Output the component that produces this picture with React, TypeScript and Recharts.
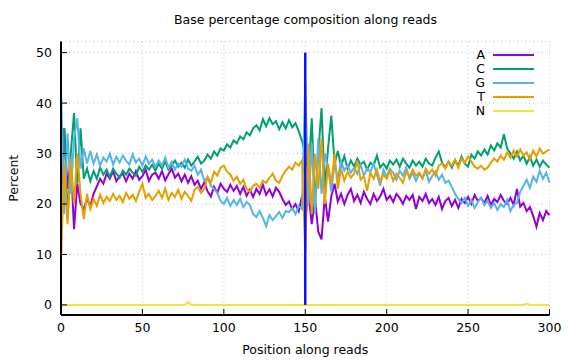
import { LineChart, Line, XAxis, YAxis, CartesianGrid, Legend, ReferenceLine } from 'recharts'

// read positions (every 2nd base along the read)
const positions = [
  0, 2, 4, 6, 8, 10, 12, 14, 16, 18,
  20, 22, 24, 26, 28, 30, 32, 34, 36, 38,
  40, 42, 44, 46, 48, 50, 52, 54, 56, 58,
  60, 62, 64, 66, 68, 70, 72, 74, 76, 78,
  80, 82, 84, 86, 88, 90, 92, 94, 96, 98,
  100, 102, 104, 106, 108, 110, 112, 114, 116, 118,
  120, 122, 124, 126, 128, 130, 132, 134, 136, 138,
  140, 142, 144, 146, 148, 150, 152, 154, 156, 158,
  160, 162, 164, 166, 168, 170, 172, 174, 176, 178,
  180, 182, 184, 186, 188, 190, 192, 194, 196, 198,
  200, 202, 204, 206, 208, 210, 212, 214, 216, 218,
  220, 222, 224, 226, 228, 230, 232, 234, 236, 238,
  240, 242, 244, 246, 248, 250, 252, 254, 256, 258,
  260, 262, 264, 266, 268, 270, 272, 274, 276, 278,
  280, 282, 284, 286, 288, 290, 292, 294, 296, 298,
  300,
]

const pctA = [
  21, 35, 23, 29, 15, 24, 20, 19, 21, 19.5,
  22, 23.5, 25, 24, 26, 25, 26.5, 24.5, 25.5, 26,
  24.5, 26, 25, 26.5, 24.8, 25.5, 26.8, 24.6, 25.8, 26.2,
  25, 26.5, 24.7, 25.9, 27, 25.2, 26, 24.5, 25.8, 24.2,
  25.5, 23.8, 24.6, 23, 24.3, 22.5, 21.5, 23.4, 22.2, 24,
  23, 22.4, 23.8, 22.6, 23.6, 22, 23.4, 21.6, 22.8, 21.4,
  23, 22, 23.8, 21.8, 22.9, 21.5, 23.2, 22.4, 21, 19.8,
  20.5, 19, 20, 18.6, 21.5, 17, 22, 16, 21, 14.5,
  13, 21.5, 16.5, 21.5, 24, 20.5, 22, 20, 21.8, 23,
  20.6, 21.8, 20.2, 22.4, 21, 20, 22, 20.6, 21.5, 23,
  20.8, 21.6, 20.4, 22, 21.2, 20, 21.6, 20.8, 21.8, 19,
  21.4, 20.6, 22, 20.2, 21, 19.8, 21.4, 19, 20.6, 21.2,
  19.6, 20.8, 19.2, 21, 20.2, 21.4, 20, 21.8, 20.6, 21.2,
  20.2, 21.6, 19.8, 21, 20.4, 21.8, 20.6, 20, 21.2, 19.8,
  23, 19.5, 20.2, 18.6, 19.4, 17.6, 15.5, 18.2, 16.8, 18.6,
  17.8,
]

const pctC = [
  28, 35, 17, 30, 38, 24, 35, 25, 27, 24.5,
  26.5, 25, 27.2, 25.8, 26.8, 25.4, 27, 26, 25.2, 26.6,
  25.8, 27, 26.2, 25.6, 27.4, 26.4, 27.6, 26.8, 27.8, 26.6,
  28, 27, 28.4, 26.8, 27.6, 28.6, 27.4, 28.2, 27.2, 28.8,
  27.6, 28.4, 29.4, 28, 28.6, 29.8, 29, 30.4, 29.6, 31,
  30.6, 31.8, 31.2, 32.6, 32, 33.4, 32.8, 34.2, 33.6, 35,
  35.6, 34.6, 36.8, 35.4, 37, 35.8, 36.4, 34.8, 36.2, 35,
  36.6, 35.2, 36, 34.4, 32.5, 30, 26, 37, 20, 30,
  39, 23, 31, 37.5, 28, 30.5, 27.5, 29.5, 27, 28.6,
  27.4, 29, 27.8, 28.4, 26.8, 28.2, 27.6, 29.6, 27.2, 28,
  27, 28.6, 27.8, 28.8, 27.4, 29, 28, 27.2, 28.6, 27.6,
  28.4, 27.4, 29, 28, 27.6, 29.2, 30.4, 28.2, 27.2, 28.4,
  27.2, 28.6, 27.6, 29.4, 28, 27.4, 29.8, 29, 30.4, 29.6,
  30.8, 29.8, 31.6, 30.6, 32, 31.2, 33.8, 31, 30, 29,
  30.4, 28.6, 29.6, 28, 29.4, 27.6, 28.8, 27.4, 28.6, 27.8,
  27.2,
]

const pctG = [
  42.5, 18, 34, 22, 33, 37, 27, 31, 28, 30.5,
  28, 29.8, 27.6, 29.2, 28.4, 30, 27.8, 29.4, 28.2, 29.6,
  28.6, 27.8, 29.8, 28.2, 29, 27.6, 29.4, 28, 28.8, 27.4,
  28.6, 27.6, 29.2, 27.2, 28.4, 26.8, 28, 27.4, 28.8, 27,
  26.6, 27.6, 25.8, 26.8, 24.6, 25.2, 23.6, 23, 22.2, 20.6,
  20, 21.2, 19.6, 20.8, 19.8, 21, 19.4, 20.4, 19.8, 18,
  17.4, 18.6, 17.2, 15.6, 17.8, 16.8, 17.6, 18.4, 17.2, 18.6,
  18.4, 19.2, 18, 19.6, 19, 44, 20, 32, 18, 33,
  22, 30, 27, 22.5, 28, 25, 28.5, 26.6, 27.6, 26.2,
  27.2, 26, 27.8, 25.6, 27, 26.4, 28, 25.8, 23.6, 26.8,
  25.4, 27, 26.2, 24.8, 26.6, 25.6, 27.2, 25, 26.2, 24.6,
  26, 25.2, 26.6, 24.4, 25.6, 26.4, 24.8, 25.8, 24.2, 24.6,
  23.4, 22, 21, 20.2, 21.2, 19.6, 20.8, 19.2, 20.4, 21.2,
  19.8, 20.6, 19.2, 20.2, 18.8, 20, 19.4, 20.8, 18.6, 19.8,
  20.2, 22.4, 23.6, 24.8, 23.2, 25.4, 24.4, 26.6, 25, 26.2,
  24.2,
]

const pctT = [
  9, 28, 16, 29, 20, 30, 22, 17, 22, 19,
  21, 19.6, 21.8, 20.2, 21.4, 20.6, 22, 20.8, 21.6, 20.4,
  22.2, 21, 21.8, 20.6, 22.4, 24, 21.2, 22, 20.8, 21.6,
  22.6, 21.2, 23, 20.8, 22.2, 21.4, 22.8, 21, 22.4, 21.6,
  20.6, 22.8, 23.4, 22.2, 23, 25.4, 24.2, 26.4, 25.6, 27.2,
  27.6, 26.4, 25.8, 24.6, 25.4, 24, 24.8, 23, 22.4, 23.6,
  24, 23.2, 24.6, 24.2, 25.2, 26, 24.6, 24.2, 25.6, 26.6,
  27.4, 26.8, 28.2, 27.6, 28.6, 10.5, 32, 18, 30, 23,
  33, 20, 28, 24, 30, 23, 27, 24.6, 26.4, 25.2,
  26, 28.6, 24.8, 25.6, 22.6, 26.2, 25, 26.8, 24.4, 25.8,
  25, 26.6, 24.6, 26, 25.2, 24.2, 26.4, 25.4, 26.8, 25.6,
  26.2, 25, 27, 26, 26.8, 25.6, 27.6, 28, 27, 28.4,
  27.6, 28.8, 27.2, 29, 28.2, 29.4, 28.4, 27.4, 27, 27.6,
  26.8, 27.2, 28.2, 29, 28.4, 29.6, 28.8, 30.2, 29.2, 30.6,
  29.4, 30.8, 29.6, 30.2, 28.8, 30.6, 29.4, 31, 30, 30.4,
  30.8,
]

const pctN = [
  0, 0, 0, 0, 0, 0, 0, 0, 0, 0,
  0, 0, 0, 0, 0, 0, 0, 0, 0, 0,
  0, 0, 0, 0, 0, 0, 0, 0, 0, 0,
  0, 0, 0, 0, 0, 0, 0, 0, 0, 0.6,
  0, 0, 0, 0, 0, 0, 0, 0, 0, 0,
  0, 0, 0, 0, 0, 0, 0, 0, 0, 0,
  0, 0, 0, 0, 0, 0, 0, 0, 0, 0,
  0, 0, 0, 0, 0, 0, 0, 0, 0, 0,
  0, 0, 0, 0, 0, 0, 0, 0, 0, 0,
  0, 0, 0, 0, 0, 0, 0, 0, 0, 0,
  0, 0, 0, 0, 0, 0, 0, 0, 0, 0,
  0, 0, 0, 0, 0, 0, 0, 0, 0, 0,
  0, 0, 0, 0, 0, 0, 0, 0, 0, 0,
  0, 0, 0, 0, 0, 0, 0, 0, 0, 0,
  0, 0, 0, 0.25, 0, 0, 0, 0, 0, 0,
  0,
]

const bases = ['A', 'C', 'G', 'T', 'N']
const xTicks = [0, 50, 100, 150, 200, 250, 300]
const yTicks = [0, 10, 20, 30, 40, 50]
const readBoundary = 150
const boundaryTop = 50

const data = positions.map((pos, i) => ({
  pos,
  A: pctA[i],
  C: pctC[i],
  G: pctG[i],
  T: pctT[i],
  N: pctN[i],
}))

const FONT = 'DejaVu Sans'
const FS = 12.5
const tickStyle = { fontSize: FS, fill: '#000', fontFamily: FONT }
const noLabel = () => ''

const legendContent = ({ payload }: any) => {
  const items = [...(payload ?? [])].sort((a: any, b: any) => bases.indexOf(a.value) - bases.indexOf(b.value))
  return (
    <div style={{ fontSize: FS, color: '#000', fontFamily: FONT }}>
      {items.map((p: any) => (
        <div key={p.value} style={{ display: 'flex', alignItems: 'center', height: 14 }}>
          <span style={{ width: 48, textAlign: 'right', lineHeight: '14px' }}>{p.value}</span>
          <span style={{ width: 41, height: 2, marginLeft: 8, background: p.color }} />
        </div>
      ))}
    </div>
  )
}

export default function App() {
  return (
    <div style={{ position: 'absolute', left: 0, top: 0, width: 576, height: 360, background: '#fff', fontFamily: FONT }}>
      <div style={{ position: 'absolute', left: 61, top: 13, width: 489, textAlign: 'center', fontSize: FS, lineHeight: '14px', color: '#000' }}>
        Base percentage composition along reads
      </div>
      <LineChart width={576} height={360} data={data} margin={{ top: 41.5, right: 26.5, bottom: 0, left: 0 }}>
        <CartesianGrid stroke="#c4c4c4" strokeDasharray="1 3" />
        <XAxis
          dataKey="pos" type="number" domain={[0, 300]} ticks={xTicks}
          height={45} tick={tickStyle} tickSize={-6} tickMargin={14}
          axisLine={{ stroke: '#000', strokeWidth: 2 }} tickLine={{ stroke: '#000' }}
          label={{ value: 'Position along reads', position: 'insideBottom', offset: 6, fill: '#000', fontSize: FS, fontFamily: FONT }}
        />
        <XAxis
          xAxisId="top" orientation="top" type="number" domain={[0, 300]} ticks={xTicks}
          height={0} tickSize={-6} tickFormatter={noLabel}
          axisLine={{ stroke: '#000', strokeWidth: 2 }} tickLine={{ stroke: '#000' }}
        />
        <YAxis
          type="number" domain={[-2, 52.2]} ticks={yTicks} width={61}
          tick={tickStyle} tickSize={-6} tickMargin={15}
          axisLine={{ stroke: '#000', strokeWidth: 2 }} tickLine={{ stroke: '#000' }}
          label={{ value: 'Percent', angle: -90, position: 'insideLeft', offset: 14, fill: '#000', fontSize: FS, fontFamily: FONT, style: { textAnchor: 'middle' } }}
        />
        <YAxis
          yAxisId="right" orientation="right" type="number" domain={[-2, 52.2]} ticks={yTicks}
          width={0} tickSize={-6} tickFormatter={noLabel}
          axisLine={{ stroke: '#000', strokeWidth: 2 }} tickLine={{ stroke: '#000' }}
        />
        <Legend
          layout="horizontal" verticalAlign="middle" align="center"
          content={legendContent}
          wrapperStyle={{ top: 48, left: 437, width: 110 }}
        />
        <Line dataKey="A" stroke="#9400d3" strokeWidth={2} dot={false} isAnimationActive={false} />
        <Line dataKey="C" stroke="#009e73" strokeWidth={2} dot={false} isAnimationActive={false} />
        <Line dataKey="G" stroke="#56b4e9" strokeWidth={2} dot={false} isAnimationActive={false} />
        <Line dataKey="T" stroke="#e69f00" strokeWidth={2} dot={false} isAnimationActive={false} />
        <Line dataKey="N" stroke="#f0e442" strokeWidth={2} dot={false} isAnimationActive={false} />
        <ReferenceLine
          segment={[{ x: readBoundary, y: 0 }, { x: readBoundary, y: boundaryTop }]}
          stroke="#1010ff" strokeWidth={2.5}
        />
      </LineChart>
    </div>
  )
}
